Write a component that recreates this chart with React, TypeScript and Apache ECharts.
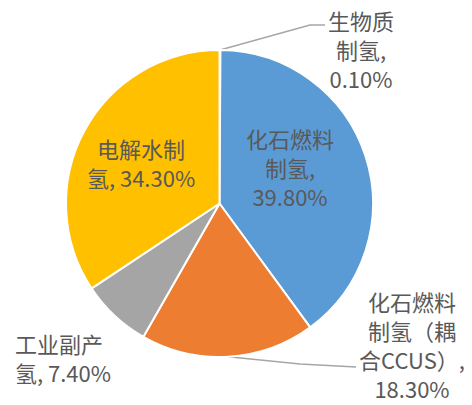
import React, { useEffect, useRef } from "react";
import * as echarts from "echarts";

const categories = [
  "生物质制氢",
  "化石燃料制氢",
  "化石燃料制氢（耦合CCUS）",
  "工业副产氢",
  "电解水制氢",
];
const values = [0.1, 39.8, 18.3, 7.4, 34.3];
const colors = ["#4472C4", "#5B9BD5", "#ED7D31", "#A5A5A5", "#FFC000"];
// label wrapping templates ({v} = percentage)
const labelTemplates = [
  "生物质\n制氢,\n{v}",
  "化石燃料\n制氢,\n{v}",
  "化石燃料\n制氢（耦\n合CCUS）,\n{v}",
  "工业副产\n氢, {v}",
  "电解水制\n氢, {v}",
];
const outsideLabel = [true, false, true, true, false];
const showLeader = [true, false, true, false, false];

// label placement (layout only)
const labelPos: { x: number; y: number; align: string }[] = [
  { x: 361, y: 49, align: "center" },
  { x: 290, y: 167, align: "center" },
  { x: 412, y: 344, align: "center" },
  { x: 15, y: 357, align: "left" },
  { x: 141, y: 162, align: "center" },
];
const leaderTail: number[][][] = [
  [[310, 25], [325, 25]],
  [],
  [[300, 364], [356, 367]],
  [],
  [],
];

export default function App() {
  const ref = useRef<HTMLDivElement>(null);
  useEffect(() => {
    document.body.style.margin = "0";
    const chart = echarts.init(ref.current!, null, { renderer: "svg" });
    const data = categories.map((name, i) => ({
      name,
      value: values[i],
      itemStyle: { color: colors[i] },
      label: {
        position: outsideLabel[i] ? "outside" : "inside",
        formatter: labelTemplates[i].replace("{v}", values[i].toFixed(2) + "%"),
      },
      labelLine: { show: showLeader[i] },
    }));
    chart.setOption({
      animation: false,
      series: [
        {
          type: "pie",
          center: [219.5, 203.5],
          radius: 153.5,
          startAngle: 90,
          clockwise: true,
          avoidLabelOverlap: false,
          itemStyle: { borderColor: "#ffffff", borderWidth: 2 },
          label: {
            show: true,
            color: "#595959",
            fontSize: 22,
            lineHeight: 29,
            fontFamily: "Noto Sans CJK SC",
            align: "center",
          },
          labelLine: {
            lineStyle: { color: "#A6A6A6", width: 1.5 },
            length: 10,
            length2: 10,
          },
          emphasis: { disabled: true },
          labelLayout: (params: any) => {
            const i = params.dataIndex;
            const p = labelPos[i];
            const res: any = {
              x: p.x,
              y: p.y,
              align: p.align,
              verticalAlign: "middle",
            };
            if (showLeader[i] && params.labelLinePoints) {
              res.labelLinePoints = [params.labelLinePoints[0], ...leaderTail[i]];
            }
            return res;
          },
          data,
        },
      ],
    });
    return () => chart.dispose();
  }, []);
  return <div ref={ref} style={{ width: 472, height: 405 }} />;
}
